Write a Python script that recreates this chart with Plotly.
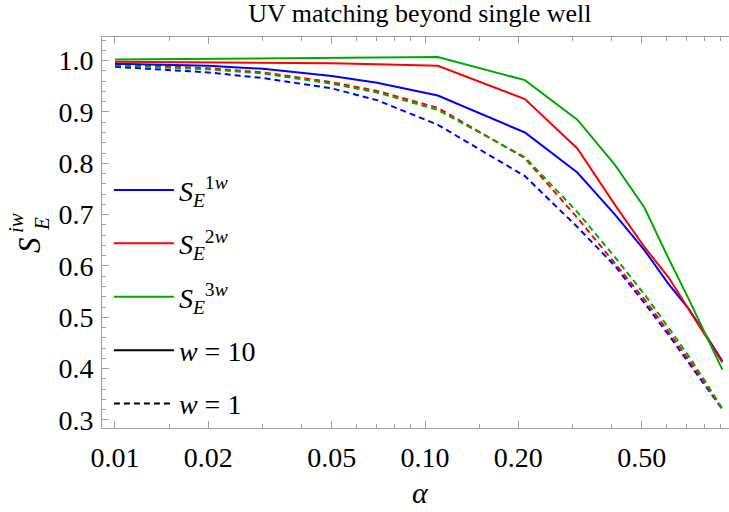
import plotly.graph_objects as go

# ---- data ----
alpha = [0.01, 0.02, 0.03, 0.05, 0.07, 0.11, 0.21, 0.31, 0.41, 0.51, 0.61, 0.71, 0.81, 0.91]

s1w_w10 = [0.994, 0.990, 0.984, 0.970, 0.957, 0.932, 0.860, 0.782, 0.700, 0.631, 0.565, 0.516, 0.463, 0.415]
s2w_w10 = [0.998, 0.997, 0.996, 0.995, 0.993, 0.990, 0.925, 0.829, 0.719, 0.637, 0.578, 0.515, 0.459, 0.412]
s3w_w10 = [1.002, 1.003, 1.004, 1.005, 1.006, 1.007, 0.962, 0.885, 0.797, 0.714, 0.615, 0.535, 0.463, 0.398]

s1w_w1 = [0.988, 0.977, 0.966, 0.946, 0.923, 0.875, 0.775, 0.676, 0.600, 0.528, 0.466, 0.412, 0.363, 0.321]
s2w_w1 = [0.993, 0.985, 0.977, 0.958, 0.941, 0.908, 0.810, 0.694, 0.605, 0.535, 0.472, 0.417, 0.366, 0.321]
s3w_w1 = [0.991, 0.983, 0.975, 0.955, 0.938, 0.904, 0.812, 0.705, 0.617, 0.545, 0.480, 0.424, 0.371, 0.322]

x_major = [0.01, 0.02, 0.05, 0.10, 0.20, 0.50]
x_major_text = ["0.01", "0.02", "0.05", "0.10", "0.20", "0.50"]
x_minor = [0.015, 0.03, 0.04, 0.06, 0.07, 0.08, 0.09, 0.15, 0.3, 0.4, 0.6, 0.7, 0.8, 0.9]
y_major = [0.3, 0.4, 0.5, 0.6, 0.7, 0.8, 0.9, 1.0]
y_major_text = ["0.3", "0.4", "0.5", "0.6", "0.7", "0.8", "0.9", "1.0"]

labels = ["<i>S</i><sub><i>E</i></sub><sup>1<i>w</i></sup>",
          "<i>S</i><sub><i>E</i></sub><sup>2<i>w</i></sup>",
          "<i>S</i><sub><i>E</i></sub><sup>3<i>w</i></sup>"]
colors = ["rgb(0,0,255)", "rgb(255,0,0)", "rgb(0,170,0)"]

SERIF = "Times New Roman, Liberation Serif, DejaVu Serif, serif"
DASH = "6px,4px"

fig = go.Figure()

solid = [s1w_w10, s2w_w10, s3w_w10]
dashed = [s1w_w1, s2w_w1, s3w_w1]

for i in range(3):
    fig.add_trace(go.Scatter(x=alpha, y=dashed[i], mode="lines",
                             line=dict(color=colors[i], width=2, dash=DASH),
                             showlegend=False, hoverinfo="skip"))
for i in range(3):
    fig.add_trace(go.Scatter(x=alpha, y=solid[i], mode="lines",
                             line=dict(color=colors[i], width=2),
                             name=labels[i], legendgroup="g%d" % i,
                             showlegend=True))

fig.add_trace(go.Scatter(x=[None], y=[None], mode="lines",
                         line=dict(color="black", width=2),
                         name="<i>w</i> = 10", legendgroup="g3"))
fig.add_trace(go.Scatter(x=[None], y=[None], mode="lines",
                         line=dict(color="black", width=2, dash=DASH),
                         name="<i>w</i> = 1", legendgroup="g4"))

frame = "rgb(160,160,160)"

# axis titles as annotations (stacked sub/superscript for the y label)
L, T, W, H = 102, 37, 627, 391
def px(x):
    return (x - L) / W
def py(y):
    return (T + H - y) / H

annotations = [
    dict(text="<i>S</i>", x=px(29), y=py(245), font=dict(family=SERIF, size=31, color="black")),
    dict(text="<i>E</i>", x=px(42), y=py(224), font=dict(family=SERIF, size=21, color="black")),
    dict(text="<i>iw</i>", x=px(16), y=py(223), font=dict(family=SERIF, size=21, color="black")),
]
for a in annotations:
    a.update(xref="paper", yref="paper", xanchor="center", yanchor="middle",
             textangle=-90, showarrow=False)
annotations.append(dict(text="<i>α</i>", x=px(420), y=py(492), xref="paper", yref="paper",
                        xanchor="center", yanchor="middle", showarrow=False,
                        font=dict(family=SERIF, size=30, color="black")))

fig.update_layout(
    template="none",
    width=729, height=512,
    margin=dict(l=L, r=0, t=T, b=512 - T - H, autoexpand=False),
    paper_bgcolor="white", plot_bgcolor="white",
    font=dict(family=SERIF, size=28, color="black"),
    title=dict(text="UV matching beyond single well",
               font=dict(family=SERIF, size=26, color="black"),
               x=0.576, xanchor="center", y=0.975, yanchor="middle"),
    showlegend=True,
    legend=dict(x=0.011, y=0.672, xanchor="left", yanchor="top",
                bgcolor="rgba(0,0,0,0)", borderwidth=0,
                font=dict(family=SERIF, size=28, color="black"),
                traceorder="grouped", tracegroupgap=14,
                itemwidth=60),
    annotations=annotations,
    xaxis=dict(type="log", automargin=False,
               range=[-2.0419, -0.0194],
               tickmode="array", tickvals=x_major, ticktext=x_major_text,
               ticks="inside", ticklen=7, tickwidth=1, tickcolor=frame,
               minor=dict(tickmode="array", tickvals=x_minor, ticks="inside",
                          ticklen=4, tickwidth=1, tickcolor=frame),
               showline=True, linecolor=frame, linewidth=1, mirror="ticks",
               showgrid=False, zeroline=False,
               ticklabelstandoff=4,
               tickfont=dict(family=SERIF, size=28, color="black")),
    yaxis=dict(automargin=False, range=[0.2844, 1.046],
               tickmode="array", tickvals=y_major, ticktext=y_major_text,
               ticks="inside", ticklen=7, tickwidth=1, tickcolor=frame,
               minor=dict(dtick=0.02, tick0=0.3, ticks="inside",
                          ticklen=4, tickwidth=1, tickcolor=frame),
               showline=True, linecolor=frame, linewidth=1, mirror=False,
               showgrid=False, zeroline=False,
               ticklabelstandoff=2,
               tickfont=dict(family=SERIF, size=28, color="black")),
)

fig.write_html(
    "out.html",
    config={"displayModeBar": False},
    post_script="document.body.style.margin='0';document.body.style.overflow='hidden';",
)
